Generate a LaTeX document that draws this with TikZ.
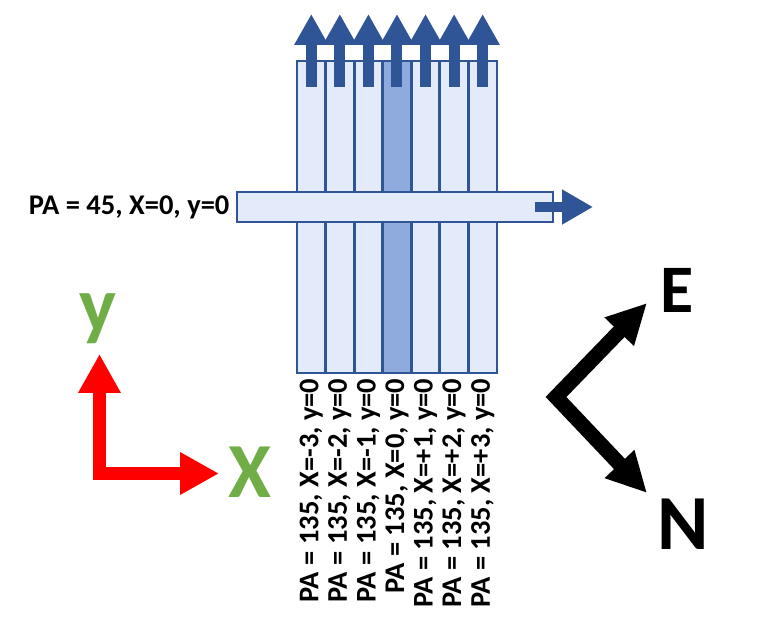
\documentclass[tikz,border=0pt]{standalone}
\usepackage{fontspec}
\setmainfont{Carlito}
\usetikzlibrary{arrows.meta,positioning}
\definecolor{slitblue}{HTML}{2F5597}
\definecolor{slitfill}{HTML}{E3EBFB}
\definecolor{slitmid}{HTML}{8FAADC}
\definecolor{axisgreen}{HTML}{70AD47}
\begin{document}
\begin{tikzpicture}[x=1pt, y=-1pt,
    strip/.style = {draw=slitblue, line width=2.8pt, fill=slitfill, inner sep=0pt,
                    minimum width=28.57pt, minimum height=312pt},
    slit/.style = {draw=slitblue, line width=2.8pt, fill=slitfill, inner sep=0pt,
                   minimum width=316pt, minimum height=30pt},
    lbl/.style = {font=\fontsize{28.5}{32}\selectfont\bfseries, inner sep=4pt},
    big/.style = {font=\fontsize{78}{80}\selectfont\bfseries, inner sep=0pt},
    scan/.style = {draw=slitblue, line width=11pt, -{Triangle[length=31pt, width=32pt]}},
    redarrow/.style = {draw=red, line width=13pt, line join=miter,
                       {Triangle[length=39pt, width=40pt]}-{Triangle[length=39pt, width=40pt]}},
    compass/.style = {draw=black, line width=15pt, line join=miter,
                      {Triangle[length=40pt, width=38pt]}-{Triangle[length=40pt, width=38pt]}}]
    \useasboundingbox (0,0) rectangle (761,636);

    % slits at PA = 135
    \foreach \i/\t in {1/-3, 2/-2, 3/-1, 4/0, 5/+1, 6/+2, 7/+3} {
        \node[strip] (s\i) at ({297+28.57*(\i-0.5)}, 217) {};
        \node[lbl, rotate=90, anchor=east] (l\i) at (s\i.south) {PA = 135, X=\t, y=0};
    }
    \node[strip, fill=slitmid] at (s4) {};

    % slit at PA = 45
    \node[slit] (h) at (395, 207) {};
    \node[lbl, left=2pt of h] (lh) {PA = 45, X=0, y=0};

    % scan directions
    \foreach \i in {1,...,7} {
        \coordinate (t\i) at ({297+28.57*(\i-0.5)}, 14);
        \draw[scan] ([yshift=-27pt]s\i.north) -- (t\i);
    }
    \coordinate (e) at (593, 207);
    \draw[scan, line width=10pt, -{Triangle[length=31pt, width=33pt]}] ([xshift=-19pt]h.east) -- (e);

    % detector axes
    \coordinate (o) at (99.5, 473.5);
    \coordinate (ty) at (99.5, 354);
    \coordinate (tx) at (219, 473.5);
    \draw[redarrow] (ty) -- (o) -- (tx);
    \node[big, text=axisgreen] (y) at (98, 319) {y};
    \node[big, text=axisgreen] (x) at (250, 472) {X};

    % sky directions
    \coordinate (c) at (556, 397);
    \coordinate (te) at (647, 303);
    \coordinate (tn) at (647, 493);
    \draw[compass] (te) -- (c) -- (tn);
    \node[big, font=\fontsize{68}{70}\selectfont\bfseries] (E) at (677, 290) {E};
    \node[big] (N) at (683, 524) {N};
\end{tikzpicture}
\end{document}
